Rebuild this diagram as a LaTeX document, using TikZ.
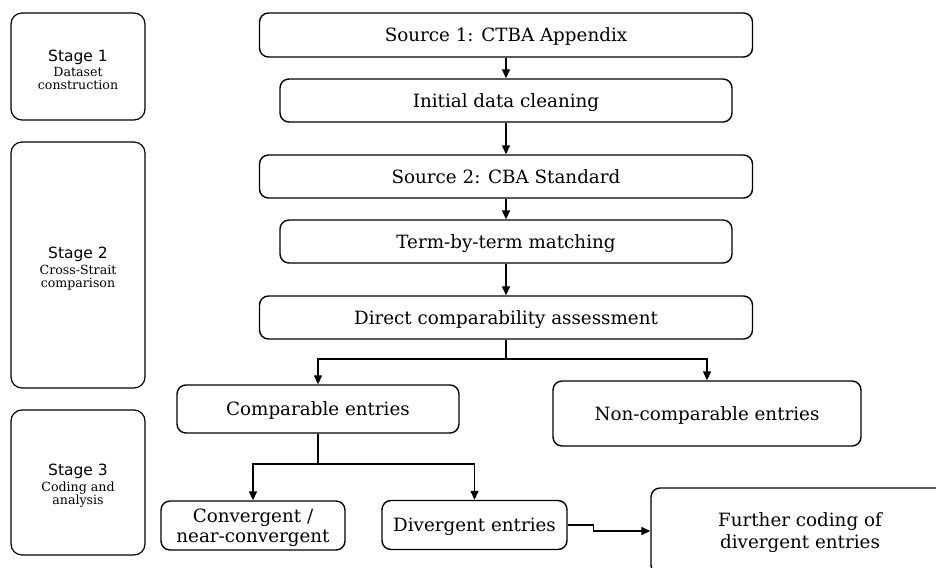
\documentclass[tikz,border=0pt]{standalone}
\usepackage{fontspec}
\setmainfont{DejaVu Serif}
\newfontfamily\stagefont{DejaVu Sans}
\usetikzlibrary{arrows.meta}

\begin{document}
\begin{tikzpicture}[x=1pt, y=-1pt,
    box/.style={rectangle, draw, rounded corners=9pt, line width=1.4pt, align=center,
      inner sep=0pt, text depth=0pt, font=\fontsize{18.3}{20.5}\selectfont},
    stagebox/.style={rectangle, draw, rounded corners=11pt, line width=1.2pt,
      inner sep=0pt, minimum width=134pt},
    stagetext/.style={align=center, inner sep=0pt, font=\fontsize{12.6}{12.6}\selectfont},
    arr/.style={-{Triangle[length=9pt, width=8pt]}, line width=1.4pt}]
    \useasboundingbox (0,0) rectangle (936,567);
    \clip (0,0) rectangle (936,567);

    % Stages
    \node (stage1) [stagebox, minimum height=107pt] at (78,66.5) {};
    \node (stage2) [stagebox, minimum height=246pt] at (78,265) {};
    \node (stage3) [stagebox, minimum height=145pt] at (78,482.5) {};
    \node (stage1txt) [stagetext] at ([yshift=-3pt]stage1.center)
      {{\stagefont\fontsize{15.5}{17}\selectfont Stage 1}\\[3pt]Dataset\\construction};
    \node (stage2txt) [stagetext] at ([yshift=-3.5pt]stage2.center)
      {{\stagefont\fontsize{15.5}{17}\selectfont Stage 2}\\[3pt]Cross-Strait\\comparison};
    \node (stage3txt) [stagetext] at ([yshift=-3pt]stage3.center)
      {{\stagefont\fontsize{15.5}{17}\selectfont Stage 3}\\[3pt]Coding and\\analysis};

    % Nodes
    \node (src1) [box, minimum width=493pt, minimum height=44pt] at (506,35) {Source 1: CTBA Appendix};
    \node (clean) [box, minimum width=452pt, minimum height=43pt] at (506,100.5) {Initial data cleaning};
    \node (src2) [box, minimum width=493pt, minimum height=43pt] at (506,176.5) {Source 2: CBA Standard};
    \node (match) [box, minimum width=452pt, minimum height=43pt] at (506,241.5) {Term-by-term matching};
    \node (direct) [box, minimum width=493pt, minimum height=43pt] at (506,317.5) {Direct comparability assessment};
    \node (comp) [box, minimum width=282pt, minimum height=48pt] at (318,409) {Comparable entries};
    \node (noncomp) [box, minimum width=308pt, minimum height=65pt] at (707,413.5) {Non-comparable entries};
    \node (conv) [box, minimum width=184pt, minimum height=49pt] at (253,525.5) {Convergent /\\near-convergent};
    \node (div) [box, minimum width=185pt, minimum height=49pt] at (474.5,525) {Divergent entries};
    \node (further) [box, minimum width=298pt, minimum height=86pt, font=\fontsize{18.3}{22}\selectfont]
      at (800,531) {Further coding of\\divergent entries};

    % Arrows
    \draw[arr] (src1) -- (clean);
    \draw[arr] (clean) -- (src2);
    \draw[arr] (src2) -- (match);
    \draw[arr] (match) -- (direct);
    \coordinate (split1) at (506,359);
    \draw[line width=1.4pt] (direct.south) -- (split1);
    \draw[arr] (split1) -| (comp.north);
    \draw[arr] (split1) -| (noncomp.north);
    \coordinate (split2) at (318,464);
    \draw[line width=1.4pt] (comp.south) -- (split2);
    \draw[arr] (split2) -| (conv.north);
    \draw[arr] (split2) -| (div.north);
    \draw[arr] (div.east) -- ++(26,0) |- (further.west);
\end{tikzpicture}
\end{document}
